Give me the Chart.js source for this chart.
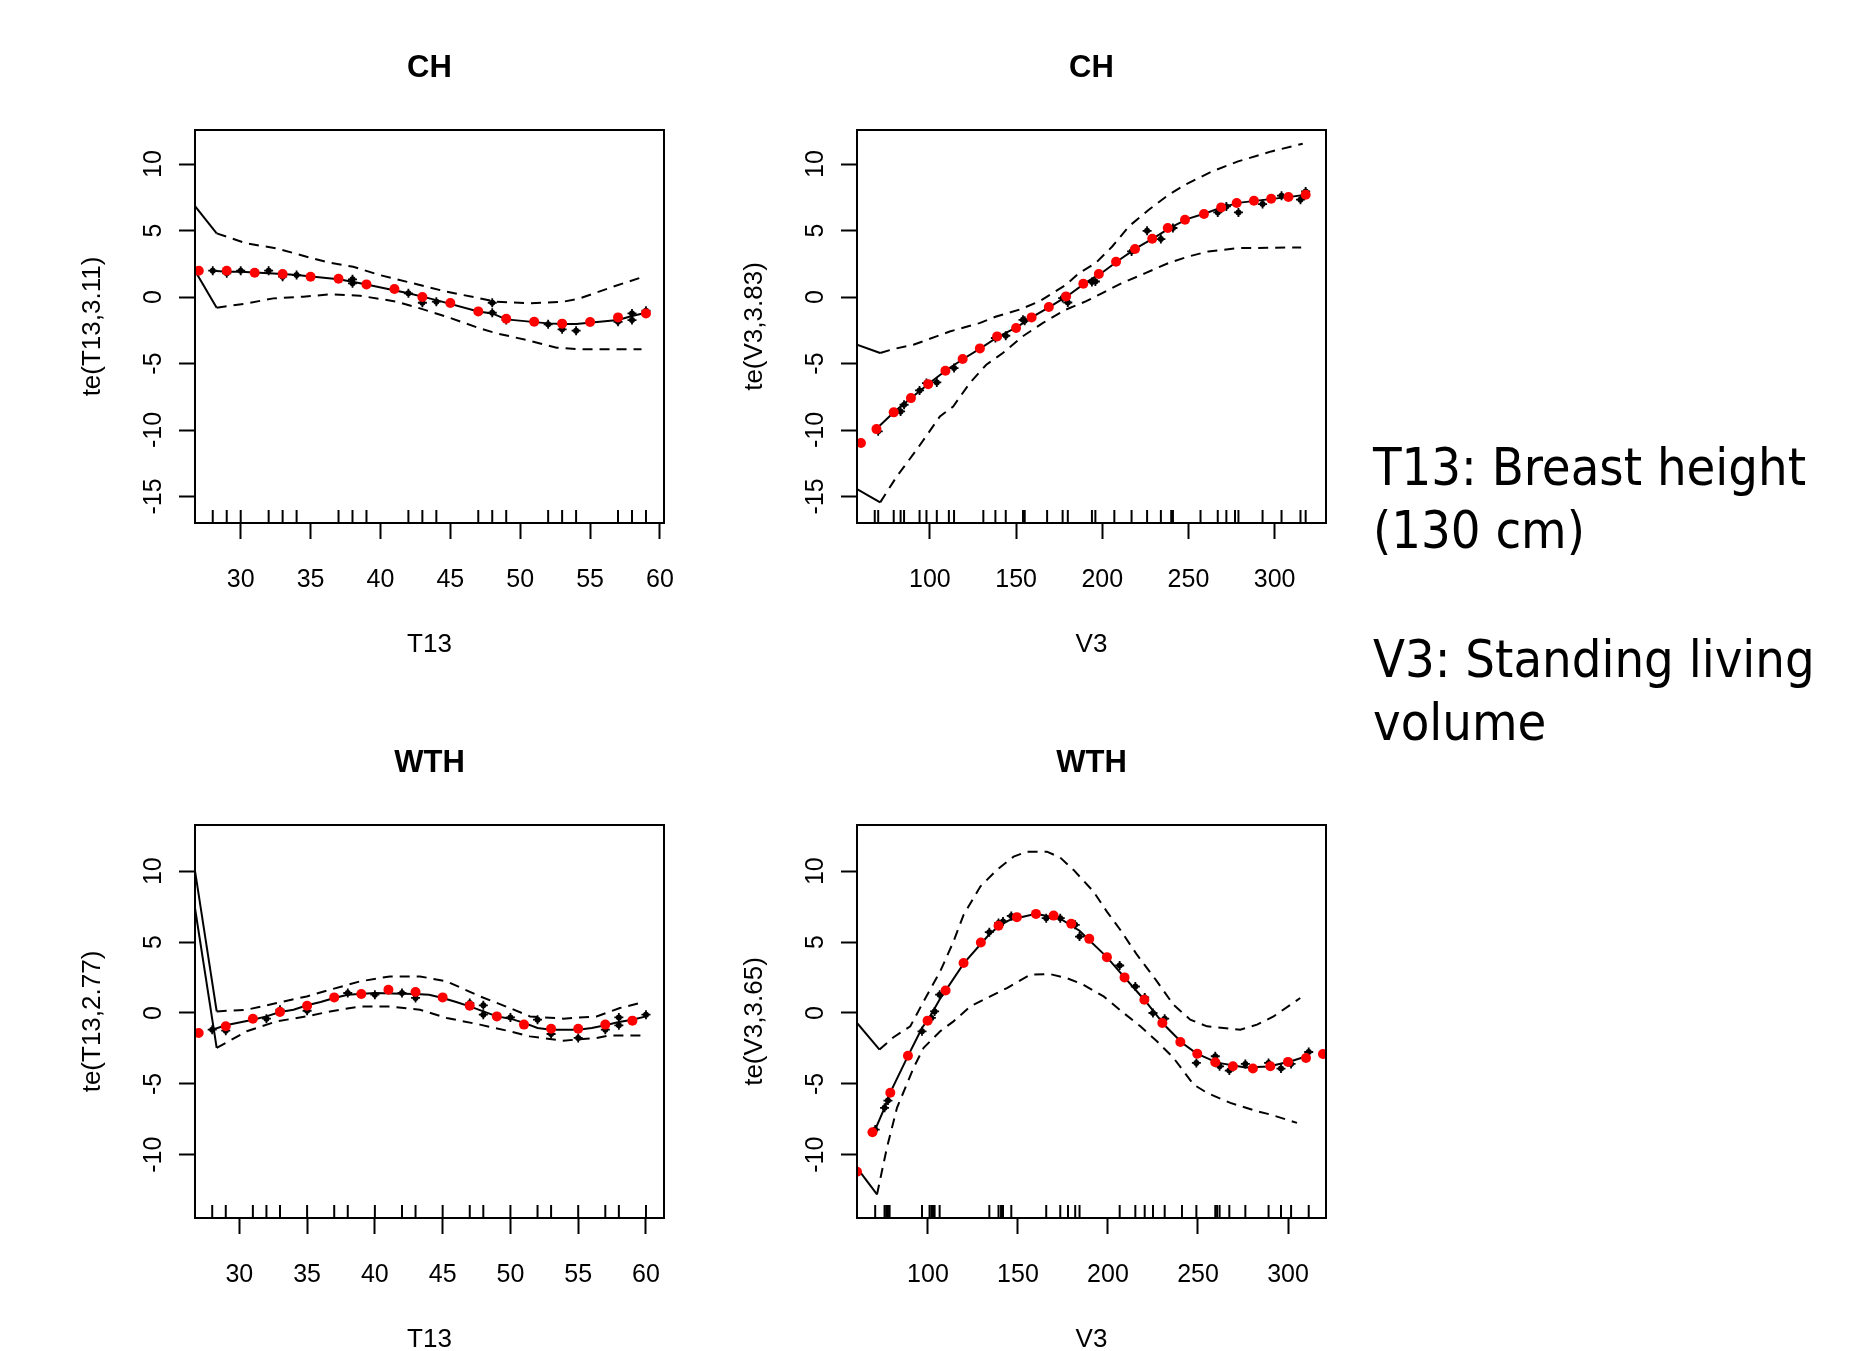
<!DOCTYPE html>
<html>
<head>
<meta charset="utf-8">
<title>te() smooths</title>
<script src="https://cdn.jsdelivr.net/npm/chart.js@4.4.1/dist/chart.umd.min.js"></script>
<style>
  html, body { margin: 0; padding: 0; background: #fff; }
  body { width: 1868px; height: 1351px; position: relative; overflow: hidden; }
  canvas { position: absolute; }
  .note {
    position: absolute; left: 1373px; color: #000; white-space: nowrap;
    font-family: 'DejaVu Sans Condensed', 'DejaVu Sans', sans-serif; font-stretch: condensed;
    font-size: 52px; line-height: 63px;
  }
</style>
</head>
<body>
<canvas id="chT13" width="679" height="673" style="left:35px;top:0px"></canvas>
<canvas id="chV3" width="679" height="673" style="left:697px;top:0px"></canvas>
<canvas id="wthT13" width="679" height="673" style="left:35px;top:695px"></canvas>
<canvas id="wthV3" width="679" height="673" style="left:697px;top:695px"></canvas>
<div class="note" style="top:436px">T13: Breast height<br>(130 cm)</div>
<div class="note" style="top:628px">V3: Standing living<br>volume</div>
<script>
'use strict';

// tick labels
const t13Ticks = [30, 35, 40, 45, 50, 55, 60];
const v3Ticks = [100, 150, 200, 250, 300];
const chYTicks = [-15, -10, -5, 0, 5, 10];
const wthYTicks = [-10, -5, 0, 5, 10];

// ---- CH ~ T13 ----
const chT13RedX = [27, 29, 31, 33, 35, 37, 39, 41, 43, 45, 47, 49, 51, 53, 55, 57, 59];
const chT13RedY = [1.98, 1.98, 1.83, 1.73, 1.53, 1.38, 0.95, 0.6, 0, -0.45, -1.08, -1.63, -1.86, -2.0, -1.88, -1.53, -1.23];
const chT13FitX = [28, 29, 30, 32, 33, 34, 37, 38, 39, 42, 43, 44, 47, 48, 49, 52, 53, 54, 57, 58, 59];
const chT13FitY = [1.98, 1.9, 1.9, 1.78, 1.73, 1.65, 1.33, 1.15, 0.95, 0.28, 0.03, -0.23, -1.08, -1.23, -1.68, -1.98, -2.03, -2.03, -1.73, -1.43, -1.18];
const chT13BlkX = [28, 29, 30, 32, 33, 34, 38, 38, 42, 43, 44, 48, 48, 49, 52, 53, 54, 57, 58, 58, 59];
const chT13BlkY = [1.98, 1.78, 1.98, 1.98, 1.53, 1.65, 1.33, 1.03, 0.28, -0.43, -0.35, -0.43, -1.18, -1.73, -2.05, -2.43, -2.53, -1.86, -1.23, -1.73, -1.03];
const chT13UpX = [28.28, 30.43, 32.58, 34.72, 36.39, 38.05, 39.96, 42.35, 44.74, 47.12, 48.31, 50.7, 53.08, 54.27, 56.65, 58.68];
const chT13UpY = [4.79, 4.03, 3.66, 3.03, 2.58, 2.28, 1.65, 1.03, 0.4, -0.1, -0.35, -0.48, -0.35, -0.1, 0.78, 1.48];
const chT13LoX = [28.28, 30.43, 32.34, 34.48, 36.39, 38.53, 41.16, 42.83, 44.74, 47.12, 48.31, 50.46, 52.61, 54.27, 58.68];
const chT13LoY = [-0.8, -0.48, -0.1, 0.03, 0.2, 0.1, -0.35, -0.85, -1.48, -2.36, -2.73, -3.23, -3.81, -3.93, -3.93];
const chT13UpEdgeX = [26.73, 28.28];
const chT13UpEdgeY = [6.84, 4.79];
const chT13LoEdgeX = [26.73, 28.28];
const chT13LoEdgeY = [1.98, -0.8];
const chT13Rug = [28, 29, 30, 32, 33, 34, 37, 38, 39, 42, 43, 44, 47, 48, 49, 52, 53, 54, 57, 58, 59];

// ---- CH ~ V3 ----
const chV3RedX = [60, 69, 79, 89, 99, 109, 119, 129, 139, 150, 159, 169, 179, 189, 198, 208, 219, 229, 238, 248, 259, 269, 278, 288, 298, 308, 318];
const chV3RedY = [-10.98, -9.93, -8.67, -7.6, -6.55, -5.54, -4.66, -3.86, -2.96, -2.33, -1.53, -0.75, 0.05, 1.0, 1.73, 2.65, 3.61, 4.38, 5.19, 5.81, 6.24, 6.74, 7.07, 7.24, 7.39, 7.52, 7.69];
const chV3FitX = [69, 80, 90, 100, 110, 120, 130, 140, 150, 160, 170, 180, 190, 200, 210, 220, 230, 240, 250, 260, 270, 280, 290, 300, 310, 318];
const chV3FitY = [-9.9, -8.55, -7.5, -6.45, -5.45, -4.6, -3.8, -2.95, -2.3, -1.45, -0.7, 0.1, 1.05, 1.85, 2.8, 3.7, 4.45, 5.25, 5.9, 6.3, 6.78, 7.1, 7.25, 7.4, 7.55, 7.7];
const chV3BlkX = [70, 83, 85, 94, 98, 104, 114, 138, 144, 154, 155, 177, 180, 194, 196, 217, 226, 234, 241, 267, 272, 279, 293, 304, 315, 318];
const chV3BlkY = [-10.1, -8.6, -8.1, -7.02, -6.47, -6.42, -5.34, -3.08, -2.91, -1.71, -1.78, -0.08, -0.41, 1.13, 1.17, 3.43, 4.98, 4.36, 5.19, 6.36, 6.81, 6.36, 6.99, 7.62, 7.32, 7.94];
const chV3UpX = [71.15, 78.8, 90.4, 103.8, 111.5, 128.8, 138.5, 151.9, 163.5, 178.9, 186.5, 196.2, 205.8, 215.4, 227, 238.5, 248.1, 263.5, 278.8, 298.1, 316.3];
const chV3UpY = [-4.21, -3.91, -3.59, -2.96, -2.59, -1.96, -1.46, -0.95, -0.33, 0.92, 1.8, 2.56, 3.8, 5.31, 6.56, 7.69, 8.44, 9.44, 10.2, 10.95, 11.53];
const chV3LoX = [71.15, 80.8, 92.3, 105.8, 113.5, 123.1, 132.7, 142.3, 153.8, 165.4, 178.8, 190.4, 200, 211.5, 225, 238.5, 250, 261.5, 278.8, 315.4];
const chV3LoY = [-15.44, -13.49, -11.48, -8.98, -8.23, -6.47, -5.09, -4.21, -2.96, -1.96, -0.95, -0.33, 0.3, 1.05, 1.8, 2.56, 3.05, 3.43, 3.68, 3.73];
const chV3UpEdgeX = [57.7, 71.15];
const chV3UpEdgeY = [-3.59, -4.21];
const chV3LoEdgeX = [57.7, 71.15];
const chV3LoEdgeY = [-14.44, -15.44];
const chV3Rug = [68, 70, 79, 83, 85, 94, 98, 104, 111, 114, 131, 138, 144, 154, 155, 168, 177, 180, 194, 196, 207, 217, 226, 234, 240, 241, 257, 267, 272, 277, 279, 293, 304, 315, 318];

// ---- WTH ~ T13 ----
const wthT13RedX = [27, 29, 31, 33, 35, 37, 39, 41, 43, 45, 47, 49, 51, 53, 55, 57, 59];
const wthT13RedY = [-1.41, -0.94, -0.4, 0.07, 0.51, 1.1, 1.34, 1.64, 1.48, 1.1, 0.51, -0.24, -0.82, -1.11, -1.11, -0.82, -0.54];
const wthT13FitX = [28, 29, 31, 32, 33, 34, 35, 36, 37, 38, 40, 42, 43, 44, 45, 46, 47, 48, 49, 50, 51, 52, 53, 55, 56, 57, 58, 59, 60];
const wthT13FitY = [-1.18, -0.87, -0.47, -0.24, 0.07, 0.23, 0.54, 0.77, 1.06, 1.29, 1.41, 1.36, 1.34, 1.29, 1.06, 0.77, 0.47, 0.11, -0.24, -0.4, -0.7, -1.06, -1.18, -1.18, -1.06, -0.87, -0.63, -0.47, -0.24];
const wthT13BlkX = [28, 29, 32, 33, 35, 38, 40, 42, 43, 47, 48, 48, 50, 52, 53, 55, 57, 58, 58, 60];
const wthT13BlkY = [-1.18, -1.25, -0.4, 0.23, 0.16, 1.41, 1.29, 1.41, 1.06, 0.7, 0.54, -0.12, -0.31, -0.47, -1.48, -1.76, -1.18, -0.31, -0.87, -0.12];
const wthT13UpX = [28.33, 30.55, 32.76, 34.97, 36.69, 38.9, 41.11, 43.33, 45.3, 47.75, 49.96, 51.44, 53.9, 56.36, 58.08, 59.8];
const wthT13UpY = [0.11, 0.23, 0.7, 1.17, 1.64, 2.23, 2.58, 2.58, 2.23, 1.17, 0.35, -0.24, -0.4, -0.24, 0.35, 0.77];
const wthT13LoX = [28.33, 30.55, 32.76, 34.97, 36.69, 38.9, 41.11, 43.33, 45.3, 47.75, 49.96, 51.44, 53.9, 56.36, 57.35, 59.8];
const wthT13LoY = [-2.46, -1.29, -0.59, -0.24, 0.11, 0.46, 0.46, 0.23, -0.35, -0.82, -1.29, -1.65, -1.95, -1.76, -1.58, -1.58];
const wthT13UpEdgeX = [26.73, 28.33];
const wthT13UpEdgeY = [10.03, 0.11];
const wthT13LoEdgeX = [26.73, 28.33];
const wthT13LoEdgeY = [7.39, -2.46];
const wthT13Rug = [28, 29, 31, 32, 33, 35, 37, 38, 40, 42, 43, 45, 47, 48, 50, 52, 53, 55, 57, 58, 60];

// ---- WTH ~ V3 ----
const wthV3RedX = [60.6, 69.2, 79.1, 88.9, 99.8, 109.8, 119.8, 129.4, 139.2, 149.4, 160, 169.8, 179.6, 189.6, 199.4, 209.2, 220.2, 230.2, 240.2, 249.6, 259.6, 269.4, 280.5, 290.2, 300, 310, 319.4];
const wthV3RedY = [-11.2, -8.41, -5.63, -3.01, -0.54, 1.59, 3.52, 4.97, 6.15, 6.76, 6.99, 6.87, 6.29, 5.23, 3.94, 2.51, 0.94, -0.7, -2.04, -2.87, -3.48, -3.76, -3.92, -3.76, -3.45, -3.17, -2.89];
const wthV3FitX = [70.7, 75.9, 79, 89, 96.7, 101, 106.5, 120, 134.1, 141.7, 146.3, 160, 173.5, 184.2, 199.4, 206.5, 220.4, 231.5, 241.1, 249.1, 260.6, 276.3, 289.2, 301.7, 311.5];
const wthV3FitY = [-8.22, -6.69, -5.63, -3.01, -1.06, -0.28, 0.95, 3.52, 5.55, 6.35, 6.6, 7.0, 6.65, 5.8, 3.94, 2.9, 0.9, -0.87, -2.1, -2.85, -3.5, -3.85, -3.78, -3.4, -3.0];
const wthV3BlkX = [70.7, 75.9, 77.8, 96.7, 101.9, 103.7, 106.5, 134.1, 139.2, 141.7, 146.3, 165.7, 173.5, 181.8, 184.2, 206.5, 215.2, 220.4, 225, 231.5, 249.1, 259.6, 262, 267.4, 276.3, 289.2, 296.1, 301.7, 311.5];
const wthV3BlkY = [-8.22, -6.69, -6.18, -1.29, -0.35, 0.11, 1.29, 5.7, 6.34, 6.45, 6.85, 6.69, 6.69, 6.22, 5.39, 3.35, 1.87, 1.1, 0, -0.4, -3.52, -3.05, -3.76, -4.06, -3.59, -3.52, -3.92, -3.59, -2.75];
const wthV3UpX = [73.1, 80.9, 90.2, 97.6, 106.8, 114.2, 119.8, 129.1, 138.3, 147.6, 155, 166.1, 173.5, 180.9, 192, 199.4, 206.8, 216.1, 227.2, 236.4, 245.7, 255, 264.2, 273.5, 282.8, 292, 306.8];
const wthV3UpY = [-2.58, -1.71, -0.94, 0.82, 2.93, 5.04, 6.92, 8.92, 10.09, 11.03, 11.38, 11.38, 10.96, 10.09, 8.56, 7.15, 5.87, 4.11, 2.23, 0.58, -0.47, -0.94, -1.06, -1.18, -0.82, -0.24, 1.06];
const wthV3LoX = [71.7, 77.2, 82.8, 92, 97.6, 106.8, 114.2, 123.5, 134.6, 143.9, 156.8, 167.9, 177.2, 186.4, 197.6, 208.7, 218, 227.2, 236.4, 247.6, 255, 268, 282.8, 290.2, 305];
const wthV3LoY = [-12.8, -9.51, -6.69, -3.87, -2.46, -1.29, -0.59, 0.46, 1.17, 1.76, 2.7, 2.74, 2.46, 1.99, 1.17, 0, -0.94, -2.0, -3.17, -5.05, -5.63, -6.34, -6.93, -7.16, -7.75];
const wthV3UpEdgeX = [60.6, 73.1];
const wthV3UpEdgeY = [-0.7, -2.58];
const wthV3LoEdgeX = [60.6, 71.7];
const wthV3LoEdgeY = [-10.92, -12.8];
const wthV3Rug = [70.7, 75.9, 76.8, 77.8, 78.7, 96.7, 100.9, 101.9, 102.8, 103.7, 106.5, 134.1, 139.2, 140.6, 141.7, 146.3, 165.7, 173.5, 177.8, 181.8, 184.2, 206.5, 215.2, 220.4, 225, 231.5, 241.1, 249.1, 259.6, 260.6, 262, 267.4, 276.3, 289.2, 296.1, 301.7, 311.5];

Chart.defaults.font.family = "'Liberation Sans', Arial, Helvetica, sans-serif";
Chart.defaults.color = '#000';

function xy(xs, ys) {
  return xs.map(function (x, i) { return { x: x, y: ys[i] }; });
}

function lineSet(xs, ys, dashed) {
  return {
    data: xy(xs, ys), showLine: true, pointRadius: 0, fill: false, tension: 0,
    borderColor: '#000', borderWidth: 2, borderDash: dashed ? [10, 7] : [], clip: 0
  };
}

function pointSet(xs, ys, style, radius, color) {
  return {
    data: xy(xs, ys), showLine: false, pointStyle: style, pointRadius: radius,
    backgroundColor: color, borderColor: color, borderWidth: style === 'cross' ? 1.8 : 0, clip: 0
  };
}

// plot frame like R's box()
const boxPlugin = {
  id: 'plotBox',
  afterDraw: function (chart) {
    const a = chart.chartArea, ctx = chart.ctx;
    ctx.save();
    ctx.strokeStyle = '#000';
    ctx.lineWidth = 2;
    ctx.strokeRect(a.left, a.top, a.right - a.left, a.bottom - a.top);
    ctx.restore();
  }
};

function makePanel(id, p) {
  const rug = p.rug.map(function (x) { return { x: x, y: p.yMin }; });
  const datasets = [
    pointSet(p.redX, p.redY, 'circle', 5, '#ff0000'),
    pointSet(p.blkX, p.blkY, 'circle', 3, '#000'),
    pointSet(p.blkX, p.blkY, 'cross', 4.5, '#000'),
    lineSet(p.fitX, p.fitY, false),
    lineSet(p.upX, p.upY, true),
    lineSet(p.loX, p.loY, true),
    lineSet(p.upEdgeX, p.upEdgeY, false),
    lineSet(p.loEdgeX, p.loEdgeY, false),
    { data: rug, showLine: false, pointStyle: 'line', rotation: 90, pointRadius: 13,
      borderColor: '#000', borderWidth: 2, clip: 0 }
  ];
  const grid = { display: true, drawOnChartArea: false, drawTicks: true, tickLength: 16, tickWidth: 2, tickColor: '#000' };
  const border = { display: true, color: '#000', width: 2 };

  return new Chart(document.getElementById(id), {
    type: 'scatter',
    data: { datasets: datasets },
    options: {
      responsive: false,
      animation: false,
      events: [],
      layout: { padding: { left: 0, top: 0, right: 50, bottom: 0 } },
      plugins: {
        legend: { display: false },
        tooltip: { enabled: false },
        title: {
          display: true, fullSize: false, text: p.title, color: '#000',
          font: { size: 31, weight: 'bold' },
          padding: { top: 49.4, bottom: 43.4 }
        }
      },
      scales: {
        x: {
          type: 'linear', position: 'bottom', min: p.xMin, max: p.xMax,
          afterFit: function (s) { s.height = 150; },
          afterBuildTicks: function (s) { s.ticks = p.xTicks.map(function (v) { return { value: v }; }); },
          ticks: { autoSkip: false, minRotation: 0, maxRotation: 0, padding: 26, color: '#000',
                   font: { size: 25 }, callback: function (v) { return String(v); } },
          grid: grid, border: border,
          title: { display: true, text: p.xTitle, color: '#000', font: { size: 26 },
                   padding: { top: 0, bottom: 12.4 } }
        },
        y: {
          type: 'linear', position: 'left', min: p.yMin, max: p.yMax,
          afterFit: function (s) { s.width = 160; },
          afterBuildTicks: function (s) { s.ticks = p.yTicks.map(function (v) { return { value: v }; }); },
          ticks: { autoSkip: false, minRotation: 90, maxRotation: 90, crossAlign: 'center', padding: 7,
                   color: '#000', font: { size: 25 }, callback: function (v) { return String(v); } },
          grid: grid, border: border,
          title: { display: true, text: p.yTitle, color: '#000', font: { size: 26 },
                   padding: { top: 42.4, bottom: 0 } }
        }
      }
    },
    plugins: [boxPlugin]
  });
}

makePanel('chT13', {
  title: 'CH', xTitle: 'T13', yTitle: 'te(T13,3.11)',
  xMin: 26.73, xMax: 60.29, yMin: -16.99, yMax: 12.56, xTicks: t13Ticks, yTicks: chYTicks,
  redX: chT13RedX, redY: chT13RedY, fitX: chT13FitX, fitY: chT13FitY, blkX: chT13BlkX, blkY: chT13BlkY,
  upX: chT13UpX, upY: chT13UpY, loX: chT13LoX, loY: chT13LoY,
  upEdgeX: chT13UpEdgeX, upEdgeY: chT13UpEdgeY, loEdgeX: chT13LoEdgeX, loEdgeY: chT13LoEdgeY, rug: chT13Rug
});

makePanel('chV3', {
  title: 'CH', xTitle: 'V3', yTitle: 'te(V3,3.83)',
  xMin: 57.7, xMax: 329.8, yMin: -16.99, yMax: 12.56, xTicks: v3Ticks, yTicks: chYTicks,
  redX: chV3RedX, redY: chV3RedY, fitX: chV3FitX, fitY: chV3FitY, blkX: chV3BlkX, blkY: chV3BlkY,
  upX: chV3UpX, upY: chV3UpY, loX: chV3LoX, loY: chV3LoY,
  upEdgeX: chV3UpEdgeX, upEdgeY: chV3UpEdgeY, loEdgeX: chV3LoEdgeX, loEdgeY: chV3LoEdgeY, rug: chV3Rug
});

makePanel('wthT13', {
  title: 'WTH', xTitle: 'T13', yTitle: 'te(T13,2.77)',
  xMin: 26.73, xMax: 61.33, yMin: -14.46, yMax: 13.26, xTicks: t13Ticks, yTicks: wthYTicks,
  redX: wthT13RedX, redY: wthT13RedY, fitX: wthT13FitX, fitY: wthT13FitY, blkX: wthT13BlkX, blkY: wthT13BlkY,
  upX: wthT13UpX, upY: wthT13UpY, loX: wthT13LoX, loY: wthT13LoY,
  upEdgeX: wthT13UpEdgeX, upEdgeY: wthT13UpEdgeY, loEdgeX: wthT13LoEdgeX, loEdgeY: wthT13LoEdgeY, rug: wthT13Rug
});

makePanel('wthV3', {
  title: 'WTH', xTitle: 'V3', yTitle: 'te(V3,3.65)',
  xMin: 60.6, xMax: 321.1, yMin: -14.46, yMax: 13.26, xTicks: v3Ticks, yTicks: wthYTicks,
  redX: wthV3RedX, redY: wthV3RedY, fitX: wthV3FitX, fitY: wthV3FitY, blkX: wthV3BlkX, blkY: wthV3BlkY,
  upX: wthV3UpX, upY: wthV3UpY, loX: wthV3LoX, loY: wthV3LoY,
  upEdgeX: wthV3UpEdgeX, upEdgeY: wthV3UpEdgeY, loEdgeX: wthV3LoEdgeX, loEdgeY: wthV3LoEdgeY, rug: wthV3Rug
});
</script>
</body>
</html>
